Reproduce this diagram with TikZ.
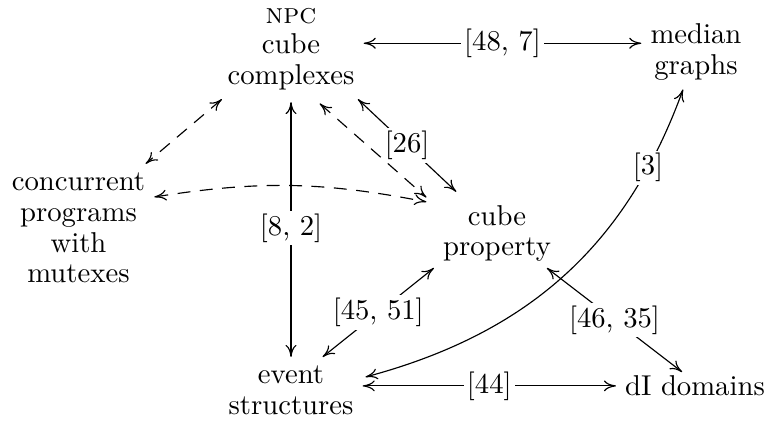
\documentclass[tikz,border=0pt]{standalone}
\usepackage{tikz}
\usetikzlibrary{arrows.meta}

\begin{document}
\begin{tikzpicture}[
  concepto/.style={align=center, inner sep=3pt, font=\fontsize{10}{10.7}\selectfont},
  flecha/.style={{To[length=4.2pt,width=3.8pt]}-{To[length=4.2pt,width=3.8pt]}},
  discontinua/.style={flecha, dash pattern=on 4.5pt off 3.3pt},
  cita/.style={fill=white, inner sep=1pt}]
\useasboundingbox (0,0) rectangle (9.405,-5.156);
\node[concepto] (cc) at (3.564,-0.600) {\textsc{npc}\\cube\\complexes};
\node[concepto] (mg) at (8.523,-0.637) {median\\graphs};
\node[concepto] (cp) at (0.961,-2.792) {concurrent\\programs\\with\\mutexes};
\node[concepto] (prop) at (6.086,-2.859) {cube\\property};
\node[concepto] (es) at (3.564,-4.782) {event\\structures};
\node[concepto] (dI) at (8.511,-4.721) {dI domains};
% flechas entre conceptos
\coordinate (a) at ([yshift=2pt]cc.east);
\draw[flecha] (a) -- (a -| mg.west) node[cita, midway] {[48, 7]};
\draw[flecha, shorten <=1pt] (cc.south) -- (es.north) node[cita, midway] {[8, 2]};
\draw[flecha] ([xshift=-2pt]cc.south east) -- ([xshift=7.8pt,yshift=1.5pt]prop.north west) node[cita, midway] {[26]};
\draw[flecha] ([yshift=1pt]prop.south west) -- ([xshift=11pt]es.north) node[cita, midway] {[45, 51]};
\draw[flecha] ([xshift=1pt,yshift=4.7pt]es.east) to[out=15, in=250] node[cita, pos=0.82] {[3]} ([xshift=-4.5pt]mg.south);
\coordinate (b) at ([yshift=1.6pt]es.east);
\draw[flecha] (b) -- (b -| dI.west) node[cita, midway] {[44]};
\draw[flecha] ([xshift=17.4pt,yshift=1pt]prop.south) -- ([xshift=-4.5pt,yshift=-2pt]dI.north) node[cita, midway] {[46, 35]};
% conjeturas
\draw[discontinua] ([xshift=10pt,yshift=-1.5pt]cc.south) -- ([xshift=-2.6pt,yshift=-0.5pt]prop.north west);
\draw[discontinua] ([xshift=1.2pt]cc.south west) -- ([xshift=-3pt]cp.north east);
\draw[discontinua] ([yshift=10.8pt]cp.east) to[bend left=10] ([xshift=-2.6pt,yshift=11pt]prop.west);
\end{tikzpicture}
\end{document}
